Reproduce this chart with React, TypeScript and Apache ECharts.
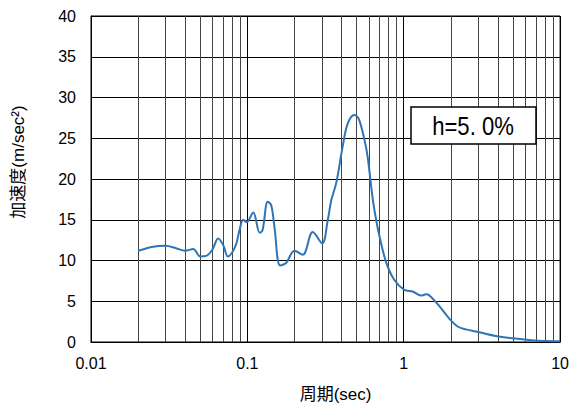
import React, { useEffect, useRef } from "react";
import * as echarts from "echarts";

const periods = [
  0.02, 0.025, 0.03, 0.035, 0.04, 0.045, 0.05, 0.055, 0.06, 0.065, 0.07, 0.075,
  0.084, 0.089, 0.094, 0.099, 0.109, 0.12, 0.125, 0.135, 0.142, 0.149, 0.162,
  0.177, 0.2, 0.226, 0.262, 0.301, 0.327, 0.344, 0.37, 0.407, 0.438, 0.484,
  0.515, 0.561, 0.588, 0.633, 0.666, 0.699, 0.771, 0.871, 1.009, 1.14, 1.29,
  1.39, 1.46, 1.69, 1.95, 2.21, 2.5, 3.04, 3.88, 4.95, 6.33, 8.09, 10,
];
const accel = [
  11.2, 11.7, 11.8, 11.5, 11.2, 11.4, 10.5, 10.6, 11.4, 12.7, 11.9, 10.5,
  11.8, 13.7, 15.0, 14.7, 15.9, 13.4, 13.7, 17.2, 16.8, 14.1, 9.4,
  9.7, 11.2, 10.7, 13.5, 12.1, 15.0, 17.4, 19.5, 24.0, 26.8, 27.85,
  27.4, 24.8, 22.7, 17.6, 15.0, 13.0, 9.8, 7.6, 6.4, 6.2, 5.7,
  5.85, 5.7, 4.4, 2.9, 1.9, 1.55, 1.2, 0.74, 0.45, 0.25, 0.12, 0.1,
];
const minorGridPeriods = [
  0.02, 0.03, 0.04, 0.05, 0.06, 0.07, 0.08, 0.09,
  0.2, 0.3, 0.4, 0.5, 0.6, 0.7, 0.8, 0.9,
  2, 3, 4, 5, 6, 7, 8, 9,
];
const xAxisTitle = "周期(sec)";
const yAxisTitle = "加速度(m/sec²)";
const dampingLabel = "h=5. 0%";

const FONT = "'Liberation Sans', 'Noto Sans CJK JP', sans-serif";

export default function App() {
  const ref = useRef<HTMLDivElement>(null);
  useEffect(() => {
    if (!ref.current) return;
    const chart = echarts.init(ref.current, null, { renderer: "svg" });
    chart.setOption({
      animation: false,
      backgroundColor: "#fff",
      grid: {
        left: 91,
        top: 16,
        right: 11,
        bottom: 68,
        show: true,
        borderColor: "#000",
        borderWidth: 1,
      },
      xAxis: {
        type: "log",
        logBase: 10,
        min: 0.01,
        max: 10,
        name: xAxisTitle,
        nameLocation: "middle",
        nameGap: 44,
        nameTextStyle: { fontSize: 17, color: "#000", fontFamily: FONT, padding: [0, 0, 0, 20] },
        axisLine: { lineStyle: { color: "#000" } },
        axisTick: { show: false },
        axisLabel: {
          fontSize: 16,
          color: "#000",
          fontFamily: FONT,
          margin: 13,
          formatter: (v: number) => String(v),
        },
        splitLine: { show: true, lineStyle: { color: "#000", width: 1 } },
      },
      yAxis: {
        type: "value",
        min: 0,
        max: 40,
        interval: 5,
        name: yAxisTitle,
        nameLocation: "middle",
        nameGap: 64,
        nameRotate: 90,
        nameTextStyle: { fontSize: 17, color: "#000", fontFamily: FONT, padding: [0, 0, 0, 34] },
        axisLine: { show: true, lineStyle: { color: "#000" } },
        axisTick: { show: false },
        axisLabel: { fontSize: 16, color: "#000", fontFamily: FONT, margin: 15 },
        splitLine: { show: true, lineStyle: { color: "#000", width: 1 } },
      },
      series: [
        {
          type: "line",
          data: [],
          silent: true,
          markLine: {
            silent: true,
            symbol: "none",
            label: { show: false },
            lineStyle: { color: "#444", width: 1, type: "solid" },
            data: minorGridPeriods.map((p) => ({ xAxis: p })),
          },
        },
        {
          type: "line",
          data: periods.map((p, i) => [p, accel[i]]),
          showSymbol: false,
          smooth: 0.35,
          lineStyle: { color: "#2e75b6", width: 2 },
          itemStyle: { color: "#2e75b6" },
          z: 5,
        },
      ],
      graphic: [
        {
          type: "rect",
          shape: { x: 411, y: 107, width: 125, height: 37 },
          style: { fill: "#fff", stroke: "#000", lineWidth: 1.5 },
          z: 10,
        },
        {
          type: "text",
          x: 473,
          y: 126,
          scaleX: 0.85,
          style: {
            text: dampingLabel,
            fontSize: 26,
            fontFamily: FONT,
            fill: "#000",
            align: "center",
            verticalAlign: "middle",
          },
          z: 11,
        },
      ],
    });
    return () => chart.dispose();
  }, []);
  return (
    <div
      ref={ref}
      style={{ position: "fixed", left: 0, top: 0, width: 572, height: 410 }}
    />
  );
}
